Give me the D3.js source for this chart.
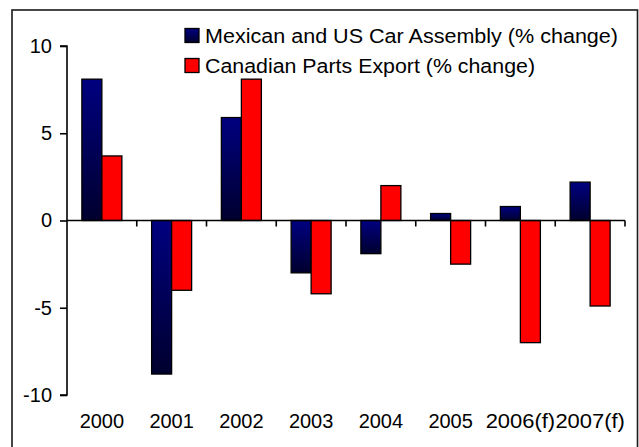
<!DOCTYPE html>
<html>
<head>
<meta charset="utf-8">
<script src="https://cdn.jsdelivr.net/npm/d3@7"></script>
<style>
  html, body { margin: 0; padding: 0; background: #fff; }
  svg { display: block; }
  text { font-family: "Liberation Sans", Arial, sans-serif; fill: #000; }
</style>
</head>
<body>
<svg id="chart" width="639" height="447"></svg>
<script>
const categories = ["2000", "2001", "2002", "2003", "2004", "2005", "2006(f)", "2007(f)"];
const mexicanUSAssembly = [8.1, -8.8, 5.9, -3.0, -1.9, 0.4, 0.8, 2.2];
const canadianPartsExport = [3.7, -4.0, 8.1, -4.2, 2.0, -2.5, -7.0, -4.9];
const seriesNames = ["Mexican and US Car Assembly (% change)", "Canadian Parts Export (% change)"];
const yTicks = [-10, -5, 0, 5, 10];

const svg = d3.select("#chart");
const defs = svg.append("defs");
const grad = defs.append("linearGradient").attr("id", "navyGrad")
  .attr("x1", 0).attr("y1", 0).attr("x2", 0).attr("y2", 1);
grad.append("stop").attr("offset", "0%").attr("stop-color", "#000080");
grad.append("stop").attr("offset", "100%").attr("stop-color", "#00002e");

const fills = ["url(#navyGrad)", "#ff0000"];

// outer border
svg.append("rect").attr("x", 12).attr("y", 10).attr("width", 625.5).attr("height", 445)
  .attr("fill", "none").attr("stroke", "#1a1a1a").attr("stroke-width", 1.6);

const left = 67, right = 625;
const y = d3.scaleLinear().domain([-10, 10]).range([395, 46]);
const x = d3.scaleBand().domain(categories).range([left, right]).paddingInner(0).paddingOuter(0);
const bw = 20;
const xs = d3.scaleBand().domain([0, 1]).range([x.bandwidth() / 2 - bw, x.bandwidth() / 2 + bw]);

const data = categories.map((c, i) => ({ c, vals: [mexicanUSAssembly[i], canadianPartsExport[i]] }));

const g = svg.append("g");
data.forEach(d => {
  d.vals.forEach((v, si) => {
    g.append("rect")
      .attr("x", x(d.c) + xs(si))
      .attr("width", xs.bandwidth())
      .attr("y", y(Math.max(0, v)))
      .attr("height", Math.abs(y(v) - y(0)))
      .attr("fill", fills[si])
      .attr("stroke", "#000").attr("stroke-width", 1.3);
  });
});

// y axis
const yAxis = d3.axisLeft(y).tickValues(yTicks).tickSize(7).tickPadding(8).tickFormat(d => String(d));
const ya = svg.append("g").attr("transform", `translate(${left},0)`).call(yAxis);
ya.select(".domain").attr("stroke", "#000").attr("stroke-width", 1.6).attr("d", `M-7,${y(10)}H0V${y(-10)}H-7`);
ya.selectAll(".tick line").attr("stroke", "#000").attr("stroke-width", 1.6);
ya.selectAll(".tick text").style("font-size", "20px").style("font-family", "Liberation Sans, Arial, sans-serif").attr("fill", "#000");

// x axis line at zero with ticks at band boundaries
const boundaries = categories.map(c => x(c)).concat([right]);
svg.append("line").attr("x1", left).attr("x2", right).attr("y1", y(0)).attr("y2", y(0))
  .attr("stroke", "#000").attr("stroke-width", 1.6);
svg.selectAll(".xtick").data(boundaries.slice(1)).enter().append("line")
  .attr("x1", d => d).attr("x2", d => d).attr("y1", y(0)).attr("y2", y(0) + 6)
  .attr("stroke", "#000").attr("stroke-width", 1.6);

// category labels at bottom
const xl = svg.selectAll(".xlabel").data(categories).enter().append("text")
  .attr("x", d => x(d) + x.bandwidth() / 2)
  .attr("y", 428)
  .attr("text-anchor", "middle")
  .style("font-size", "20px")
  .text(d => d);
xl.filter(d => d.length > 4).attr("textLength", 69.5).attr("lengthAdjust", "spacingAndGlyphs");

// legend
const legendWidths = [413, 330];
const legend = svg.append("g");
seriesNames.forEach((name, i) => {
  legend.append("rect").attr("x", 185).attr("y", 28.5 + i * 30).attr("width", 14).attr("height", 14)
    .attr("fill", fills[i]).attr("stroke", "#000").attr("stroke-width", 1.3);
  legend.append("text").attr("x", 205).attr("y", 43 + i * 30)
    .style("font-size", "20px")
    .attr("textLength", legendWidths[i]).attr("lengthAdjust", "spacingAndGlyphs")
    .text(name);
});
</script>
</body>
</html>
